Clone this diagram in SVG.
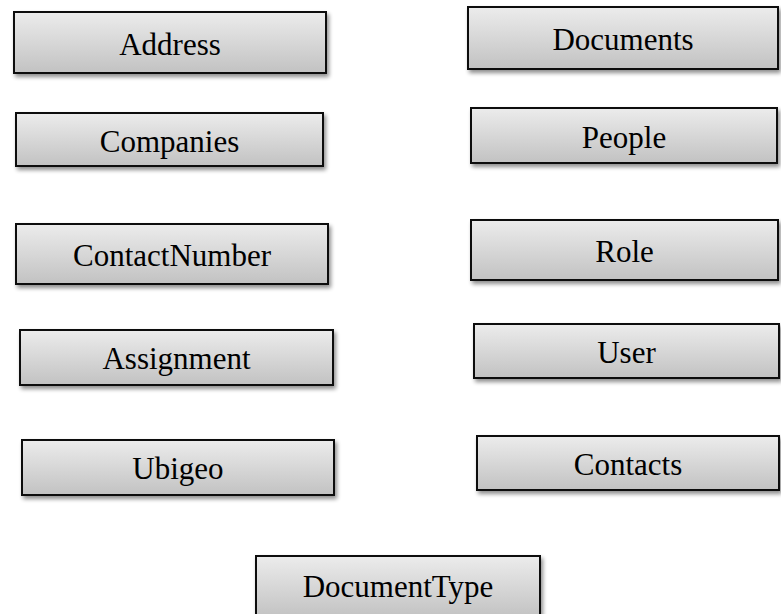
<svg xmlns="http://www.w3.org/2000/svg" width="781" height="614" viewBox="0 0 781 614">
  <defs>
    <linearGradient id="boxFill" x1="0" y1="0" x2="0" y2="1">
      <stop offset="0" stop-color="#ececec"/>
      <stop offset="1" stop-color="#c2c2c2"/>
    </linearGradient>
    <filter id="drop" x="-5%" y="-20%" width="115%" height="150%">
      <feGaussianBlur in="SourceAlpha" stdDeviation="2"/>
      <feOffset dx="2" dy="3" result="b"/>
      <feComponentTransfer><feFuncA type="linear" slope="0.45"/></feComponentTransfer>
      <feMerge><feMergeNode/><feMergeNode in="SourceGraphic"/></feMerge>
    </filter>
  </defs>
  <style>
    .box { fill: url(#boxFill); stroke: #111; stroke-width: 2; filter: url(#drop); }
    .lbl { font-family: "Liberation Serif", "Times New Roman", serif; font-size: 31px; fill: #000; text-anchor: middle; }
  </style>
  <rect width="781" height="614" fill="#fff"/>

  <g id="address"><rect class="box" x="14" y="12" width="312" height="61"/><text class="lbl" x="170" y="55">Address</text></g>
  <g id="documents"><rect class="box" x="468" y="7" width="310" height="62"/><text class="lbl" x="623" y="50">Documents</text></g>
  <g id="companies"><rect class="box" x="16" y="113" width="307" height="53"/><text class="lbl" x="169.5" y="152">Companies</text></g>
  <g id="people"><rect class="box" x="471" y="108" width="306" height="55"/><text class="lbl" x="624" y="148">People</text></g>
  <g id="contactnumber"><rect class="box" x="16" y="224" width="312" height="60"/><text class="lbl" x="172" y="266">ContactNumber</text></g>
  <g id="role"><rect class="box" x="471" y="220" width="307" height="60"/><text class="lbl" x="624.5" y="262">Role</text></g>
  <g id="assignment"><rect class="box" x="20" y="330" width="313" height="55"/><text class="lbl" x="176.5" y="369">Assignment</text></g>
  <g id="user"><rect class="box" x="474" y="324" width="305" height="54"/><text class="lbl" x="626.5" y="363">User</text></g>
  <g id="ubigeo"><rect class="box" x="22" y="440" width="312" height="55"/><text class="lbl" x="178" y="479">Ubigeo</text></g>
  <g id="contacts"><rect class="box" x="477" y="436" width="302" height="54"/><text class="lbl" x="628" y="475">Contacts</text></g>
  <g id="documenttype"><rect class="box" x="256" y="556" width="284" height="62"/><text class="lbl" x="398" y="597">DocumentType</text></g>

  <g id="connectors"></g>
</svg>
